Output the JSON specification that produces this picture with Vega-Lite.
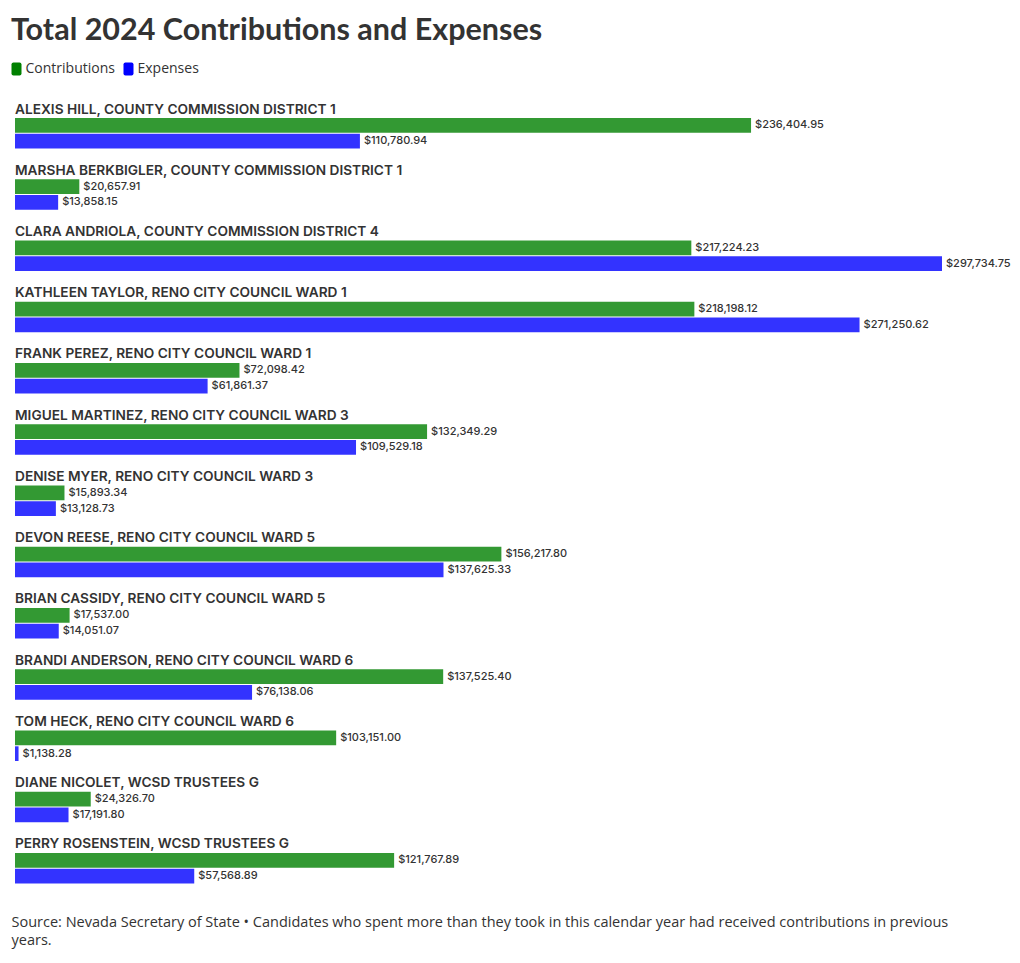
{
  "$schema": "https://vega.github.io/schema/vega-lite/v6.json",
  "autosize": {"type": "none"},
  "width": 927,
  "height": 765.5,
  "padding": {"left": 15, "top": 118, "right": 78, "bottom": 79.5},
  "background": "white",
  "title": {
    "text": "Total 2024 Contributions and Expenses",
    "anchor": "start",
    "frame": "group",
    "orient": "top",
    "font": "Lato",
    "fontSize": 30.5,
    "fontWeight": "bold",
    "color": "#333333",
    "dx": -4,
    "offset": 16
  },
  "config": {"view": {"stroke": null}},
  "data": {
    "values": [
      {"candidate": "ALEXIS HILL, COUNTY COMMISSION DISTRICT 1", "type": "Contributions", "amount": 236404.95},
      {"candidate": "ALEXIS HILL, COUNTY COMMISSION DISTRICT 1", "type": "Expenses", "amount": 110780.94},
      {"candidate": "MARSHA BERKBIGLER, COUNTY COMMISSION DISTRICT 1", "type": "Contributions", "amount": 20657.91},
      {"candidate": "MARSHA BERKBIGLER, COUNTY COMMISSION DISTRICT 1", "type": "Expenses", "amount": 13858.15},
      {"candidate": "CLARA ANDRIOLA, COUNTY COMMISSION DISTRICT 4", "type": "Contributions", "amount": 217224.23},
      {"candidate": "CLARA ANDRIOLA, COUNTY COMMISSION DISTRICT 4", "type": "Expenses", "amount": 297734.75},
      {"candidate": "KATHLEEN TAYLOR, RENO CITY COUNCIL WARD 1", "type": "Contributions", "amount": 218198.12},
      {"candidate": "KATHLEEN TAYLOR, RENO CITY COUNCIL WARD 1", "type": "Expenses", "amount": 271250.62},
      {"candidate": "FRANK PEREZ, RENO CITY COUNCIL WARD 1", "type": "Contributions", "amount": 72098.42},
      {"candidate": "FRANK PEREZ, RENO CITY COUNCIL WARD 1", "type": "Expenses", "amount": 61861.37},
      {"candidate": "MIGUEL MARTINEZ, RENO CITY COUNCIL WARD 3", "type": "Contributions", "amount": 132349.29},
      {"candidate": "MIGUEL MARTINEZ, RENO CITY COUNCIL WARD 3", "type": "Expenses", "amount": 109529.18},
      {"candidate": "DENISE MYER, RENO CITY COUNCIL WARD 3", "type": "Contributions", "amount": 15893.34},
      {"candidate": "DENISE MYER, RENO CITY COUNCIL WARD 3", "type": "Expenses", "amount": 13128.73},
      {"candidate": "DEVON REESE, RENO CITY COUNCIL WARD 5", "type": "Contributions", "amount": 156217.80},
      {"candidate": "DEVON REESE, RENO CITY COUNCIL WARD 5", "type": "Expenses", "amount": 137625.33},
      {"candidate": "BRIAN CASSIDY, RENO CITY COUNCIL WARD 5", "type": "Contributions", "amount": 17537.00},
      {"candidate": "BRIAN CASSIDY, RENO CITY COUNCIL WARD 5", "type": "Expenses", "amount": 14051.07},
      {"candidate": "BRANDI ANDERSON, RENO CITY COUNCIL WARD 6", "type": "Contributions", "amount": 137525.40},
      {"candidate": "BRANDI ANDERSON, RENO CITY COUNCIL WARD 6", "type": "Expenses", "amount": 76138.06},
      {"candidate": "TOM HECK, RENO CITY COUNCIL WARD 6", "type": "Contributions", "amount": 103151.00},
      {"candidate": "TOM HECK, RENO CITY COUNCIL WARD 6", "type": "Expenses", "amount": 1138.28},
      {"candidate": "DIANE NICOLET, WCSD TRUSTEES G", "type": "Contributions", "amount": 24326.70},
      {"candidate": "DIANE NICOLET, WCSD TRUSTEES G", "type": "Expenses", "amount": 17191.80},
      {"candidate": "PERRY ROSENSTEIN, WCSD TRUSTEES G", "type": "Contributions", "amount": 121767.89},
      {"candidate": "PERRY ROSENSTEIN, WCSD TRUSTEES G", "type": "Expenses", "amount": 57568.89}
    ]
  },
  "encoding": {
    "y": {
      "field": "candidate",
      "type": "nominal",
      "sort": null,
      "scale": {"paddingInner": 0.502, "paddingOuter": 0},
      "axis": null
    }
  },
  "layer": [
    {
      "mark": {"type": "bar", "opacity": 0.8},
      "encoding": {
        "x": {
          "field": "amount",
          "type": "quantitative",
          "scale": {"domain": [0, 297734.75], "nice": false, "zero": true},
          "axis": {
            "labels": false,
            "ticks": false,
            "domain": false,
            "grid": false,
            "title": ["Source: Nevada Secretary of State • Candidates who spent more than they took in this calendar year had received contributions in previous", "years."],
            "titleAnchor": "start",
            "titleAlign": "left",
            "titleX": -4,
            "titleY": 42.5,
            "titleBaseline": "alphabetic",
            "titleFont": "Open Sans",
            "titleFontSize": 14.5,
            "titleFontWeight": "normal",
            "titleColor": "#333333",
            "titleLineHeight": 18
          }
        },
        "yOffset": {
          "field": "type",
          "type": "nominal",
          "scale": {"domain": ["Contributions", "Expenses"], "paddingInner": 0.07, "paddingOuter": 0}
        },
        "color": {
          "field": "type",
          "type": "nominal",
          "scale": {"domain": ["Contributions", "Expenses"], "range": ["#008000", "#0000ff"]},
          "legend": {
            "orient": "none",
            "legendX": -5.5,
            "legendY": -56,
            "direction": "horizontal",
            "title": null,
            "symbolType": "M-0.47,-1 L0.47,-1 Q0.77,-1 0.77,-0.7 L0.77,0.7 Q0.77,1 0.47,1 L-0.47,1 Q-0.77,1 -0.77,0.7 L-0.77,-0.7 Q-0.77,-1 -0.47,-1 Z",
            "symbolSize": 169,
            "symbolOpacity": 1,
            "symbolStrokeWidth": 0,
            "labelFont": "Open Sans",
            "labelFontSize": 14,
            "labelColor": "#333333",
            "labelOffset": 2,
            "columnPadding": 6
          }
        }
      }
    },
    {
      "mark": {"type": "text", "align": "left", "baseline": "middle", "dx": 4, "font": "Inter", "fontSize": 11, "fontWeight": 500, "color": "#333333"},
      "encoding": {
        "x": {"field": "amount", "type": "quantitative"},
        "yOffset": {"field": "type", "type": "nominal"},
        "text": {"field": "amount", "type": "quantitative", "format": "$,.2f"}
      }
    },
    {
      "transform": [{"filter": "datum.type === 'Contributions'"}],
      "mark": {"type": "text", "align": "left", "baseline": "alphabetic", "dy": -4.5, "font": "Inter", "fontSize": 13.7, "fontWeight": 600, "color": "#333333"},
      "encoding": {
        "x": {"datum": 0},
        "y": {"field": "candidate", "type": "nominal", "sort": null, "bandPosition": 0},
        "text": {"field": "candidate", "type": "nominal"}
      }
    }
  ]
}
